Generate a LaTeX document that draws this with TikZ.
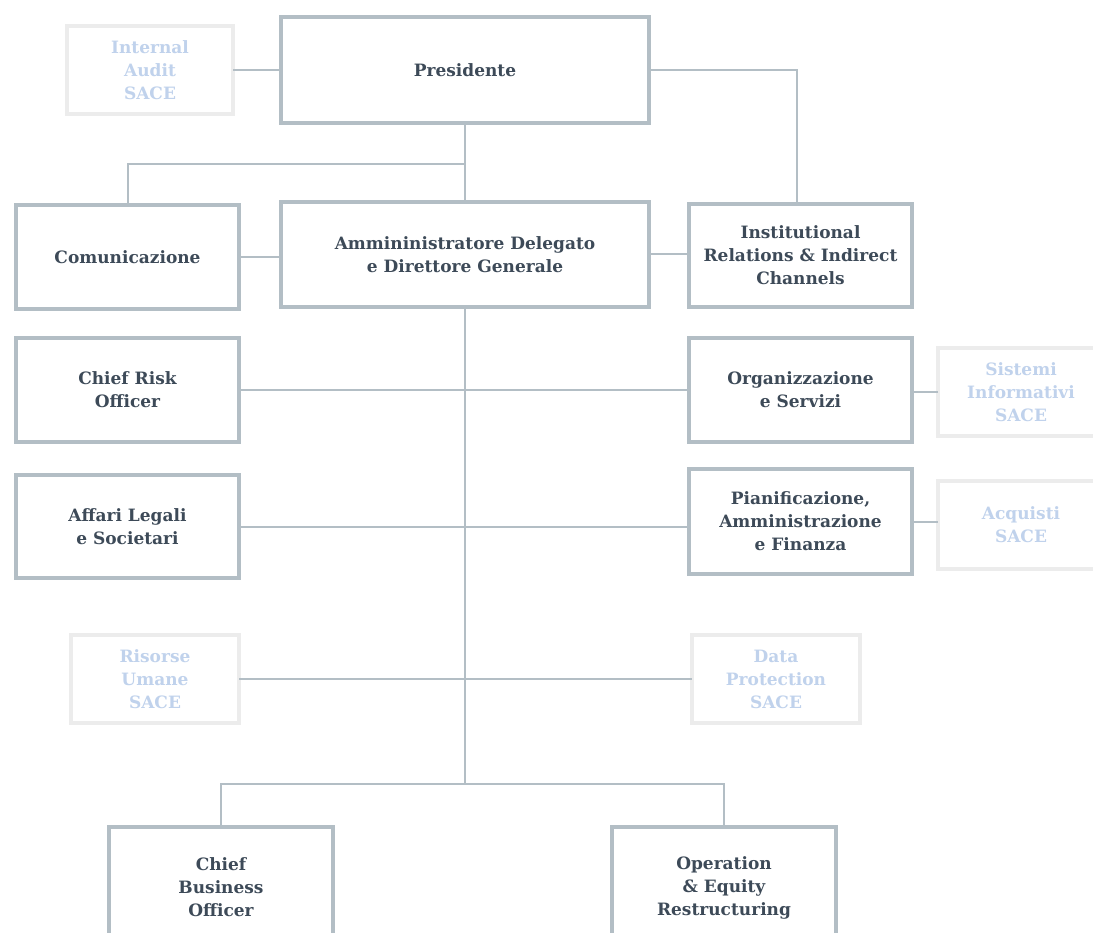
\documentclass[tikz,border=0pt]{standalone}
\usepackage{fontspec}
\setmainfont{DejaVu Serif}
\definecolor{boxgray}{HTML}{B3BEC5}
\definecolor{lightbox}{HTML}{ECECEC}
\definecolor{lighttext}{HTML}{C0D2EC}
\definecolor{darktext}{HTML}{3D4A58}
\tikzset{
  mainbox/.style={draw=boxgray, line width=4pt, fill=white, align=center, text=darktext,
    font=\bfseries\fontsize{17}{23}\selectfont, inner sep=0pt, outer sep=0pt},
  lightbox/.style={draw=lightbox, line width=4pt, fill=white, align=center, text=lighttext,
    font=\bfseries\fontsize{17}{23}\selectfont, inner sep=0pt, outer sep=0pt,
    minimum width=166pt, minimum height=88pt},
  conn/.style={draw=boxgray, line width=2pt}
}
\begin{document}
\begin{tikzpicture}[x=1pt,y=-1pt]
\path[use as bounding box] (0,0) rectangle (1093,933);
\clip (0,0) rectangle (1093,933);
\fill[white] (0,0) rectangle (1093,933);
\coordinate (j1) at (465,164);
\coordinate (j2) at (465,784);
\coordinate (iright) at (797,70);
% nodes
\node[lightbox] (ia) at (150,70) {Internal\\Audit\\SACE};
\node[mainbox, minimum width=368pt, minimum height=106pt] (pres) at (465,70) {Presidente};
\node[mainbox, minimum width=223pt, minimum height=104pt] (com) at (127.5,257) {Comunicazione};
\node[mainbox, minimum width=368pt, minimum height=105pt] (ad) at (465,254.5) {Ammininistratore Delegato\\e Direttore Generale};
\node[mainbox, minimum width=223pt, minimum height=103pt] (inst) at (800.5,255.5) {Institutional\\Relations \& Indirect\\Channels};
\node[mainbox, minimum width=223pt, minimum height=104pt] (cro) at (127.5,390) {Chief Risk\\Officer};
\node[mainbox, minimum width=223pt, minimum height=104pt] (org) at (800.5,390) {Organizzazione\\e Servizi};
\node[lightbox] (si) at (1021,392) {Sistemi\\Informativi\\SACE};
\node[mainbox, minimum width=223pt, minimum height=103pt] (als) at (127.5,526.5) {Affari Legali\\e Societari};
\node[mainbox, minimum width=223pt, minimum height=105pt] (paf) at (800.5,521.5) {Pianificazione,\\Amministrazione\\e Finanza};
\node[lightbox] (acq) at (1021,525) {Acquisti\\SACE};
\node[lightbox, minimum width=168pt] (ru) at (155,679) {Risorse\\Umane\\SACE};
\node[lightbox, minimum width=168pt] (dp) at (776,679) {Data\\Protection\\SACE};
\node[mainbox, minimum width=224pt, minimum height=121pt] (cbo) at (221,887.5) {Chief\\Business\\Officer};
\node[mainbox, minimum width=224pt, minimum height=121pt] (oer) at (724,887.5) {Operation\\\& Equity\\Restructuring};
% connectors
\path[conn] (ia.east) -- (ia.east -| pres.west);
\path[conn] (pres.east) -| (iright |- inst.north);
\path[conn] (pres.south) -- (ad.north);
\path[conn] (j1) -| (com.north);
\path[conn] (com.east) -- (com.east -| ad.west);
\path[conn] (ad.east) -- (ad.east -| inst.west);
\path[conn] (ad.south) -- (j2);
\path[conn] (cro.east) -- (org.west);
\path[conn] (als.east) -- (als.east -| paf.west);
\path[conn] (si.west) -- (si.west -| org.east);
\path[conn] (paf.east) -- (paf.east -| acq.west);
\path[conn] (ru.east) -- (dp.west);
\path[conn] (cbo.north) |- (j2) -| (oer.north);
\end{tikzpicture}
\end{document}
